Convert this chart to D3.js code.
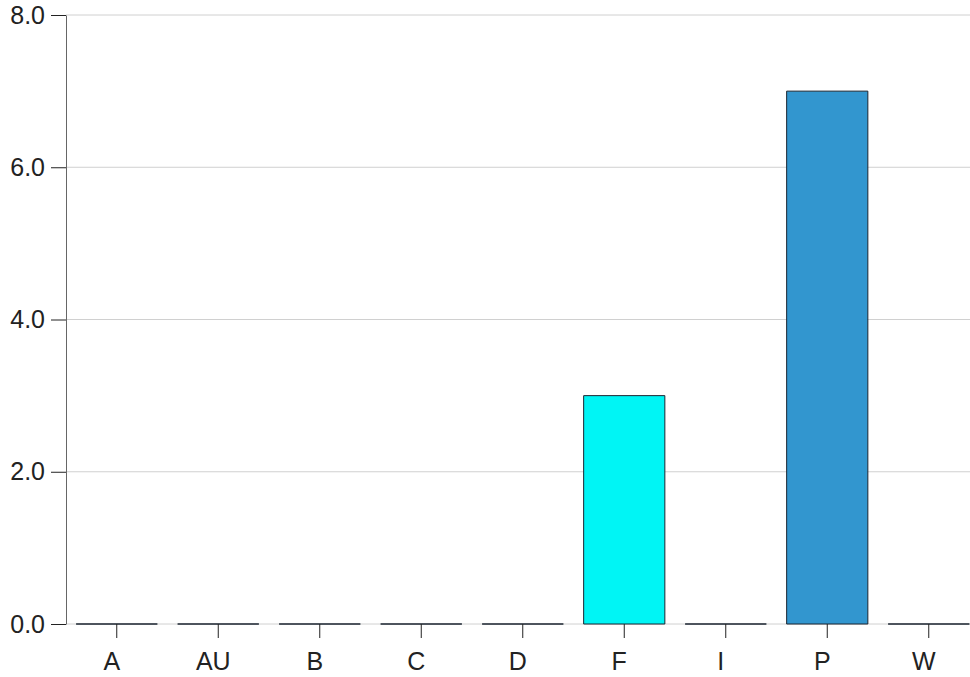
<!DOCTYPE html>
<html><head><meta charset="utf-8">
<script src="https://cdn.jsdelivr.net/npm/d3@7"></script>
<style>body{margin:0;background:#fff;} text{font-family:"Liberation Sans",Arial,sans-serif;}</style>
</head><body>
<svg id="c" width="970" height="677"></svg>
<script>
const categories = ["A","AU","B","C","D","F","I","P","W"];
const values = [0,0,0,0,0,3,0,7,0];
const barColors = ["#00f5f5","#00f5f5","#00f5f5","#00f5f5","#00f5f5","#00f5f5","#3296cf","#3296cf","#3296cf"];
const yTicks = [0,2,4,6,8];

const svg = d3.select("#c");
const mLeft = 66, mTop = 15, mBottom = 624;
const x = d3.scaleBand().domain(categories).range([mLeft, 979.5]).paddingInner(0.2).paddingOuter(0.1);
const y = d3.scaleLinear().domain([0,8]).range([mBottom, mTop]);

// grid
svg.append("g").selectAll("line").data(yTicks).join("line")
  .attr("x1", mLeft).attr("x2", 970).attr("y1", d=>y(d)).attr("y2", d=>y(d))
  .attr("stroke", "#d0d0d0").attr("stroke-width", 1);

// bars (paths so that zero-height bars still show their outline)
svg.append("g").selectAll("path").data(categories).join("path")
  .attr("d", (d,i) => {
    const x0 = x(d), x1 = x(d) + x.bandwidth(), y0 = y(0), y1 = y(values[i]);
    return `M${x0},${y0}V${y1}H${x1}V${y0}Z`;
  })
  .attr("fill", (d,i)=> barColors[i])
  .attr("stroke", "#1a2530").attr("stroke-width", 1);

// y axis
const ya = svg.append("g").attr("transform", `translate(${mLeft},0)`)
  .call(d3.axisLeft(y).tickValues(yTicks).tickFormat(d3.format(".1f")).tickSize(15).tickSizeOuter(0).tickPadding(6));
ya.select(".domain").attr("stroke", "#666");
ya.selectAll(".tick line").attr("stroke", "#222");
ya.selectAll("text").attr("font-size", 25).attr("fill", "#222").attr("font-family", "Liberation Sans, Arial, sans-serif");

// x axis
const xa = svg.append("g").attr("transform", `translate(0,${mBottom})`)
  .call(d3.axisBottom(x).tickSize(14).tickSizeOuter(0).tickPadding(14));
xa.select(".domain").remove();
xa.selectAll(".tick line").attr("stroke", "#222");
xa.selectAll("text").attr("font-size", 25).attr("fill", "#222").attr("font-family", "Liberation Sans, Arial, sans-serif").attr("dx", -5);
</script>
</body></html>
